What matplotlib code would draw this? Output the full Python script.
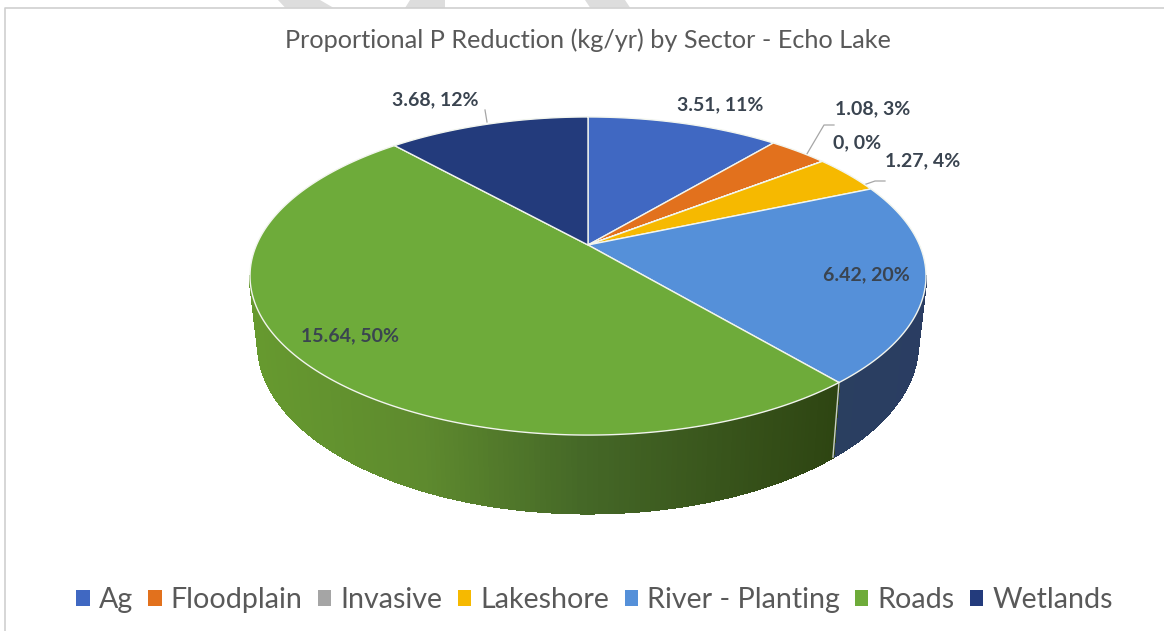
import numpy as np
import matplotlib
matplotlib.use("Agg")
import matplotlib.pyplot as plt
from matplotlib.collections import PolyCollection
from matplotlib.path import Path
from matplotlib.transforms import Transform, Affine2D

categories = ["Ag", "Floodplain", "Invasive", "Lakeshore", "River - Planting", "Roads", "Wetlands"]
values = [3.51, 1.08, 0, 1.27, 6.42, 15.64, 3.68]
shares = [11, 3, 0, 4, 20, 50, 12]
colors = ["#4068C2", "#E2711D", "#A5A5A5", "#F6B900", "#5590D9", "#6EAB3A", "#233B7C"]
title = "Proportional P Reduction (kg/yr) by Sector - Echo Lake"

W, H = 1164, 631
CX, CY, AX_, AY_, K = 588.0, 245.0, 331.5, 153.0, 0.195

def project(u, v):
    d = 1 + K * v
    return CX + AX_ * u / d, CY - AY_ * v / d

class Persp(Transform):
    input_dims = output_dims = 2
    is_separable = False
    has_inverse = False
    def transform_non_affine(self, xy):
        xy = np.asarray(xy, float)
        x, y = project(xy[:, 0], xy[:, 1])
        return np.column_stack([x, y])
    def transform_path_non_affine(self, path):
        polys = path.transformed(Affine2D().scale(3000)).to_polygons(closed_only=False)
        if not polys:
            return Path(np.zeros((1, 2)))
        return Path(self.transform_non_affine(polys[0] / 3000))

plt.rcParams["font.family"] = ["Lato", "DejaVu Sans"]
fig = plt.figure(figsize=(W / 100, H / 100), dpi=100, facecolor="white")
ax = fig.add_axes([0, 0, 1, 1])

wedges, _ = ax.pie(values, colors=colors, startangle=90, counterclock=False,
                   wedgeprops=dict(edgecolor="#F2F5EE", linewidth=1.0, zorder=4))
persp = Persp()
for w in wedges:
    w.set_transform(persp + ax.transData)
ax.set_aspect("auto")
ax.set_xlim(0, W)
ax.set_ylim(H, 0)
ax.axis("off")

# page frame and the clipped watermark behind the chart
ax.plot([5, 5, W], [H, 8, 8], color="#CFCFCF", lw=1.2, zorder=1)
for px, py in [([278, 320, 333, 285], [0, 0, 7.5, 7.5]),
               ([410, 445, 445, 405], [0, 0, 7.5, 7.5]),
               ([585, 625, 630, 590], [0, 0, 7.5, 7.5])]:
    ax.fill(px, py, color="#DDDDDD", lw=0, zorder=0.5)

# side wall
total = sum(values)
edges = np.cumsum(values) / total * 360
river_end = edges[4]
WID = np.degrees(np.arccos(-K))
def lower(x, y):
    return CX + 0.976 * (x - CX), 1.067 * y + 49

def wall(t0, t1, xs, cs):
    th = np.radians(np.linspace(t0, t1, 160))
    x, y = project(np.sin(th), np.cos(th))
    xl, yl = lower(x, y)
    polys, fc = [], []
    rgb = np.array([matplotlib.colors.to_rgb(c) for c in cs])
    for i in range(len(th) - 1):
        polys.append([(x[i], y[i]), (x[i+1], y[i+1]), (xl[i+1], yl[i+1]), (xl[i], yl[i])])
        xm = (x[i] + x[i+1]) / 2
        fc.append([np.interp(xm, xs, rgb[:, j]) for j in range(3)])
    ax.add_collection(PolyCollection(polys, facecolors=fc, edgecolors=fc, linewidths=1.2,
                                     antialiaseds=False, zorder=2))
    return x, y, xl, yl

wall(WID, river_end, [830, 925], ["#2A3F60", "#2A3D62"])
xg, yg, xgl, ygl = wall(river_end, 360 - WID, [255, 420, 580, 835], ["#66992F", "#5E8A2E", "#456827", "#2E4512"])
ax.plot([xg[0], xgl[0]], [yg[0], ygl[0]], color="#C9CFC8", lw=1.0, zorder=3)

# data labels
labels = [f"{v:g}, {s}%" for v, s in zip(values, shares)]
label_pos = [(720, 105), (873, 109), (857, 143), (923, 161), (866, 275), (350, 336), (435, 100)]
for txt, (lx, ly) in zip(labels, label_pos):
    ax.text(lx, ly, txt, ha="center", va="center", fontsize=14, fontweight="bold",
            color="#3A4450", zorder=6)
for xs_, ys_ in [([801, 824, 834], [164, 125, 125]), ([852, 875, 885], [189, 181, 181]),
                 ([485, 487], [110, 122])]:
    ax.plot(xs_, ys_, color="#A6A6A6", lw=0.9, zorder=3)

ax.text(588, 40, title, ha="center", va="center", fontsize=18.2, color="#595959", zorder=6)

leg = ax.legend(wedges, categories, loc="center", bbox_to_anchor=(594.5 / W, 1 - 600 / H),
                ncol=7, frameon=False, fontsize=20.6, labelcolor="#595959",
                handlelength=0.46, handleheight=0.46, handletextpad=0.31, columnspacing=0.55)
for h in leg.legend_handles:
    h.set_edgecolor("none")

fig.savefig("out.png", dpi=100, facecolor="white")
